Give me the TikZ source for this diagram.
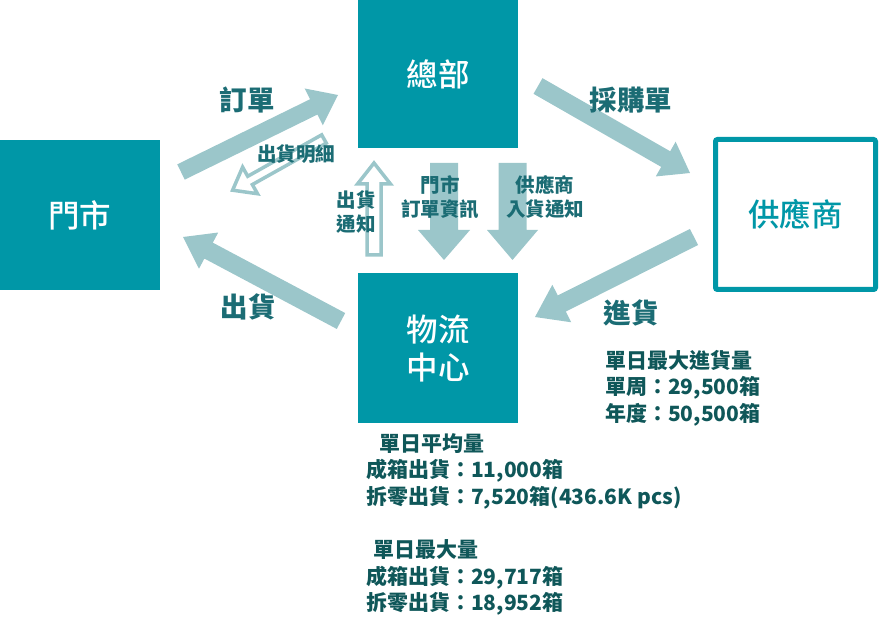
\documentclass[tikz,border=0pt]{standalone}
\usepackage{fontspec}
\setmainfont{Noto Sans CJK TC}
\newfontfamily\mediumcjk{Noto Sans CJK TC Medium}
\usetikzlibrary{calc}
\definecolor{boxteal}{HTML}{0097A7}
\definecolor{flowlight}{HTML}{9BC6CA}
\definecolor{labelteal}{HTML}{1B6C74}
\definecolor{statteal}{HTML}{0F5759}
\tikzset{
  % rutor
  box/.style={fill=boxteal,text=white,minimum width=160pt,minimum height=150pt,
              inner sep=0pt,align=center,font=\fontsize{31.5}{38}\selectfont\mediumcjk},
  openbox/.style={box,draw=boxteal,fill=white,line width=5pt,rounded corners=2pt,text=boxteal},
  % pilar
  fatarrow/.style n args={3}{to path={
      ($(\tikztostart)!#1!90:(\tikztotarget)$)
      -- ($(\tikztotarget)!#3!(\tikztostart)!#1!90:(\tikztotarget)$)
      -- ($(\tikztotarget)!#3!(\tikztostart)!#2!90:(\tikztotarget)$)
      -- (\tikztotarget)
      -- ($(\tikztotarget)!#3!(\tikztostart)!#2!-90:(\tikztotarget)$)
      -- ($(\tikztotarget)!#3!(\tikztostart)!#1!-90:(\tikztotarget)$)
      -- ($(\tikztostart)!#1!-90:(\tikztotarget)$) -- cycle}},
  flow/.style={fill=flowlight},
  hollow/.style={draw=flowlight,fill=white,line width=3.5pt,line join=miter},
  % texter
  lbl/.style={text=labelteal,inner sep=0pt,font=\fontsize{27.5}{30}\selectfont\bfseries},
  sublbl/.style={text=labelteal,inner sep=0pt,align=center,
                 font=\fontsize{19.5}{23.5}\selectfont\bfseries},
  stat/.style={text=statteal,inner sep=0pt,align=left,anchor=north west,
               font=\fontsize{21}{26.6}\selectfont\bfseries},
}
\begin{document}
\begin{tikzpicture}[x=1pt,y=-1pt]
  \useasboundingbox (0,0) rectangle (879,628);
  \node[box] (store) at (80,215) {門市};
  \node[box,minimum height=148pt] (hq) at (438,74) {總部};
  \node[box] (dc) at (438,348) {物流\\中心};
  \node[openbox] (supplier) at (795.5,214.5) {供應商};
  % flow ends
  \coordinate (ordA) at (181,172);   \coordinate (ordB) at (338,95);
  \coordinate (detA) at (324,139);   \coordinate (detB) at (232.6,190.2);
  \coordinate (shipA) at (341,321);  \coordinate (shipB) at (183,237);
  \coordinate (purA) at (538,86);    \coordinate (purB) at (690,173);
  \coordinate (recA) at (694,237);   \coordinate (recB) at (535,317);
  \coordinate (noteA) at (374,255);  \coordinate (noteB) at (374,163);
  \coordinate (infoA) at (444,163);  \coordinate (infoB) at (444,260);
  \coordinate (inA) at (512.5,163);  \coordinate (inB) at (512.5,260);
  \path[flow] (ordA) to[fatarrow={8.5pt}{20.5pt}{27pt}] (ordB);
  \path[flow] (shipA) to[fatarrow={9pt}{20.5pt}{29pt}] (shipB);
  \path[flow] (purA) to[fatarrow={9pt}{20pt}{28pt}] (purB);
  \path[flow] (recA) to[fatarrow={9pt}{21pt}{30pt}] (recB);
  \path[flow] (infoA) to[fatarrow={14pt}{26pt}{30pt}] (infoB);
  \path[flow] (inA) to[fatarrow={14pt}{25.5pt}{30pt}] (inB);
  \path[hollow] (detA) to[fatarrow={4.75pt}{15.25pt}{20pt}] (detB);
  \path[hollow] (noteA) to[fatarrow={7pt}{16.5pt}{21pt}] (noteB);
  % labels
  \node[lbl] (ordlbl) at (247,100) {訂單};
  \node[lbl] (purlbl) at (631,100) {採購單};
  \node[lbl] (shiplbl) at (248,307) {出貨};
  \node[lbl] (reclbl) at (631,313) {進貨};
  \node[sublbl] (detlbl) at (296,154) {出貨明細};
  \node[sublbl] (notelbl) at (356,212) {出貨\\通知};
  \node[sublbl] (infolbl) at (440,197) {門市\\訂單資訊};
  \node[sublbl] (inlbl) at (545,197) {供應商\\入貨通知};
  \node[stat] (recstat) at (605,350) {單日最大進貨量\\單周：29,500箱\\年度：50,500箱};
  \node[stat] (shipstat) at (366,433) {\hspace*{13pt}單日平均量\\成箱出貨：11,000箱\\
    拆零出貨：7,520箱(436.6K pcs)\\[26.6pt]\hspace*{7pt}單日最大量\\成箱出貨：29,717箱\\
    拆零出貨：18,952箱};
\end{tikzpicture}
\end{document}
